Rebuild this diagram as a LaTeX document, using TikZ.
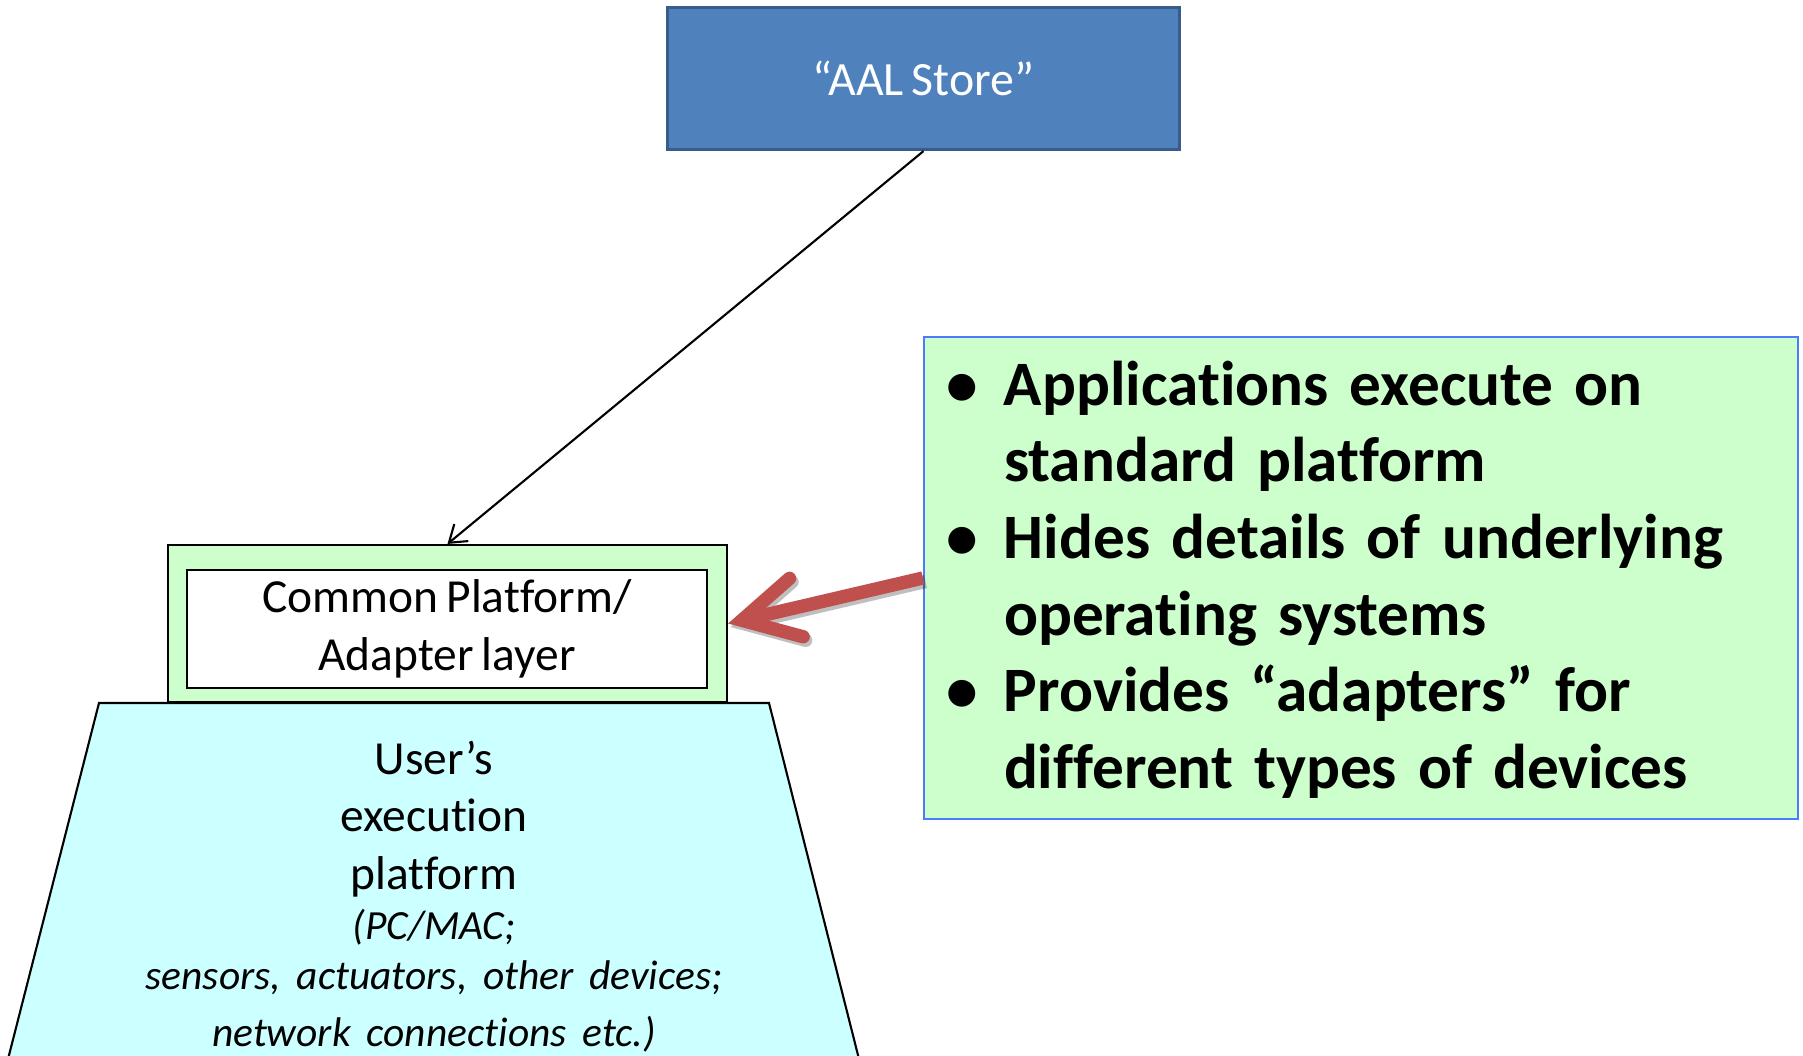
\documentclass[tikz,border=0pt]{standalone}
\usepackage{fontspec}
\setmainfont{Carlito}[Ligatures=NoCommon, WordSpace=0.75]
\usetikzlibrary{arrows.meta}
\definecolor{storeblue}{HTML}{4F81BD}
\definecolor{storeborder}{HTML}{385D8A}
\definecolor{palegreen}{HTML}{CCFFCC}
\definecolor{palecyan}{HTML}{CCFFFF}
\definecolor{boxblue}{HTML}{4D79FF}
\definecolor{arrowred}{HTML}{C0504D}

\begin{document}
\begin{tikzpicture}[
    box/.style={draw, inner sep=0pt, align=center},
    txt/.style={font=\fontsize{13.5}{16.4}\selectfont},
    bigarrow/.style={line width=3.8pt, -{Straight Barb[length=0.56cm, width=0.6cm, line cap=round, line join=miter]}},
  ]
    \useasboundingbox (0,0) rectangle (18.03,10.55);
    \clip (0,0) rectangle (18.03,10.55);

    \node [box, draw=storeborder, fill=storeblue, line width=0.9pt, minimum width=5.12cm, minimum height=1.42cm,
      text=white, font=\fontsize{13.6}{16.4}\selectfont] (store) at (9.235,9.765) {“AAL Store”};

    % user's platform (cut off at the bottom)
    \draw [fill=palecyan, line width=0.6pt] (0.99,3.52) -- (7.69,3.52) -- (8.605,-0.1) -- (0.065,-0.1) -- cycle;
    \node [txt, text width=8cm, align=center] (userplat) at (4.34,1.585)
      {User’s\\execution\\platform\par
       \fontsize{11.8}{14.2}\selectfont\itshape (PC/MAC;\\sensors, actuators, other devices;\\network connections etc.)};

    \node [box, fill=palegreen, line width=0.6pt, minimum width=5.59cm, minimum height=1.57cm] (platform) at (4.475,4.315) {};
    \node [box, fill=white, line width=0.7pt, minimum width=5.20cm, minimum height=1.18cm, txt] (adapter) at (4.47,4.26)
      {Common Platform/\\Adapter layer};

    \node [box, draw=boxblue, fill=palegreen, line width=0.6pt, minimum width=8.74cm, minimum height=4.82cm,
      inner xsep=0.22cm, text width=8.3cm, align=left, font=\bfseries\fontsize{18}{21.8}\selectfont] (features) at (13.61,4.77)
      {\raisebox{-0.035cm}[\height][\depth]{\begin{tabular}{@{}p{0.58cm}@{}l@{}}
         \textbullet & Applications execute on\\
                     & standard platform\\
         \textbullet & Hides details of underlying\\
                     & operating systems\\
         \textbullet & Provides “adapters” for\\
                     & different types of devices
       \end{tabular}}};

    % connectors
    \draw [-{Straight Barb[length=1.6mm, width=2.2mm]}, line width=0.6pt] (store.south) -- (platform.north);
    \draw [bigarrow, black, opacity=0.25, transform canvas={shift={(0.025,-0.035)}}] (features.west) -- (platform.east);
    \draw [bigarrow, arrowred] (features.west) -- (platform.east);
\end{tikzpicture}
\end{document}
